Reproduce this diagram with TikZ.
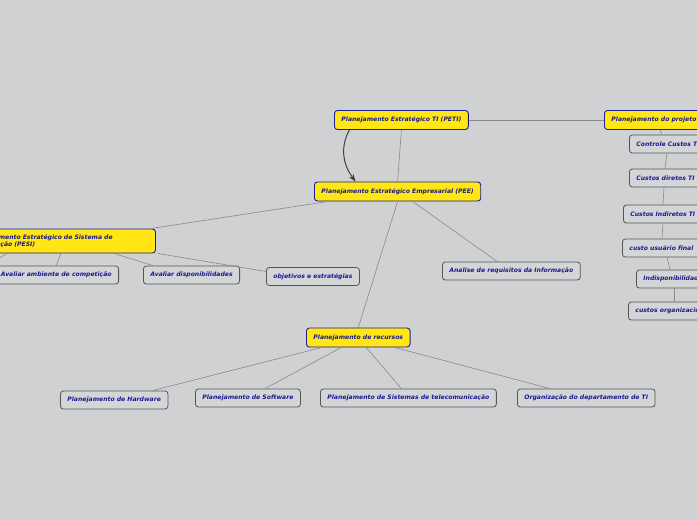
\documentclass[tikz,border=0pt]{standalone}
\usepackage{fontspec}
\setsansfont{DejaVu Sans}
\usepackage{xcolor}
\usepackage{tikz}
\usetikzlibrary{arrows.meta}

\definecolor{bgcol}{HTML}{D0D1D3}
\definecolor{topicfill}{HTML}{FFE614}
\definecolor{topicline}{HTML}{1C1C8C}
\definecolor{subfill}{HTML}{D4D5D7}
\definecolor{subline}{HTML}{555555}
\definecolor{txtcol}{HTML}{1A1A8F}
\definecolor{linkcol}{HTML}{8A8A8A}

\begin{document}
\begin{tikzpicture}[
  x=1pt, y=-1pt,
  topic/.style={draw=topicline, line width=0.9pt, rounded corners=3pt, fill=topicfill,
                minimum height=19pt, inner xsep=7pt, inner ysep=2pt, anchor=west,
                text=txtcol, font=\sffamily\bfseries\itshape\fontsize{6.1}{7.6}\selectfont},
  sub/.style={draw=subline, line width=0.8pt, rounded corners=3pt, fill=subfill,
              minimum height=18pt, inner xsep=7pt, inner ysep=2pt, anchor=west,
              text=txtcol, font=\sffamily\bfseries\itshape\fontsize{6.1}{7.6}\selectfont},
  link/.style={draw=linkcol, line width=0.6pt},
  >=Stealth
]
  \clip (0,0) rectangle (697,520);
  \fill[bgcol] (0,0) rectangle (697,520);

  \node[topic] (peti)     at (334,120)   {Planejamento Estratégico TI (PETI)};
  \node[topic] (pee)      at (314,191.5) {Planejamento Estratégico Empresarial (PEE)};
  \node[topic] (projeto)  at (604,120)   {Planejamento do projeto};
  \node[sub] (controle)   at (629,144)   {Controle Custos TI};
  \node[sub] (diretos)    at (629,178)   {Custos diretos TI};
  \node[sub] (indiretos)  at (623,214)   {Custos Indiretos TI};
  \node[sub] (usuario)    at (622,248)   {custo usuário final};
  \node[sub] (indisp)     at (636,279)   {Indisponibilidade};
  \node[sub] (custorg)    at (628,311)   {custos organizacionais};
  \node[topic, minimum height=24pt, text width=175pt, align=left] (pesi) at (-34,241)
       {Planejamento Estratégico de Sistema de\\Informação (PESI)};
  \node[sub, anchor=east] (ambiente) at (119,275) {Avaliar ambiente de competição};
  \node[sub] (disponib)   at (143,275)   {Avaliar disponibilidades};
  \node[sub] (objetivos)  at (266,276.5) {objetivos e estratégias};
  \node[sub] (analise)    at (442,271)   {Analise de requisitos da Informação};
  \node[topic] (recursos) at (306,337.5) {Planejamento de recursos};
  \node[sub] (hardware)   at (60,400)    {Planejamento de Hardware};
  \node[sub] (software)   at (195,398)   {Planejamento de Software};
  \node[sub] (telecom)    at (320,398)   {Planejamento de Sistemas de telecomunicação};
  \node[sub] (orgdep)     at (517,398)   {Organização do departamento de TI};
  \coordinate (offleft) at (-40,282);

  % links between the boxes
  \draw[link] (peti.east) -- (projeto.west);
  \draw[link] (peti.south) -- (pee.north);
  \draw[link] ([xshift=14]pee.south west) -- ([xshift=-5]pesi.north east);
  \draw[link] (pee.south) -- (recursos.north);
  \draw[link] ([xshift=15]pee.south) -- ([xshift=-14]analise.north);
  \draw[link] (pesi.south) -- (ambiente.north);
  \draw[link] ([xshift=-42]pesi.south east) -- ([xshift=10]disponib.north west);
  \draw[link] ([xshift=2]pesi.south east) -- ([yshift=5]objetivos.west);
  \draw[link] ([xshift=41]pesi.south west) -- (offleft);
  \draw[link] ([xshift=16]recursos.south west) -- ([xshift=-16]hardware.north east);
  \draw[link] ([xshift=-17]recursos.south) -- ([xshift=17]software.north);
  \draw[link] ([xshift=8]recursos.south) -- ([xshift=-7]telecom.north);
  \draw[link] ([xshift=-16]recursos.south east) -- ([xshift=-36]orgdep.north);
  \draw[link] ([xshift=56]projeto.south west) -- ([xshift=33]controle.north west);
  \draw[link] ([xshift=38]controle.south west) -- ([xshift=36]diretos.north west);
  \draw[link] ([xshift=35]diretos.south west) -- ([xshift=40]indiretos.north west);
  \draw[link] ([xshift=40]indiretos.south west) -- ([xshift=40]usuario.north west);
  \draw[link] ([xshift=45]usuario.south west) -- ([xshift=34]indisp.north west);
  \draw[link] ([xshift=38]indisp.south west) -- ([xshift=46]custorg.north west);
  % PETI -> PEE
  \draw[->, draw=black!75, line width=1pt] ([xshift=-52]peti.south)
       .. controls +(-10,18) and +(-12,-16) .. ([xshift=-42]pee.north);
\end{tikzpicture}
\end{document}
